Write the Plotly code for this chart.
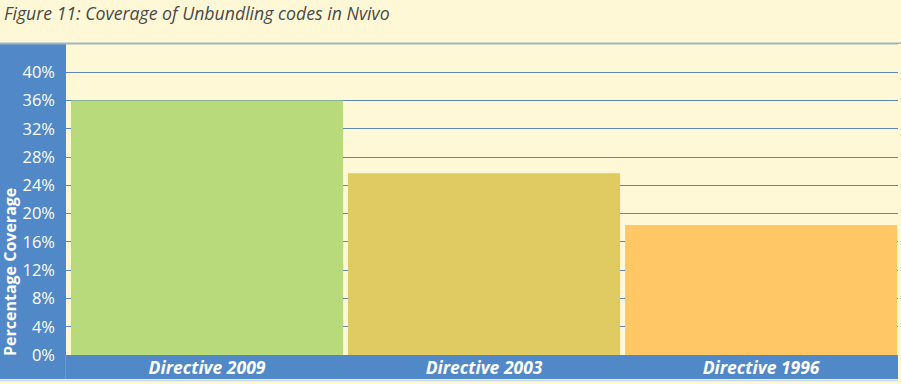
import plotly.graph_objects as go

categories = ["Directive 2009", "Directive 2003", "Directive 1996"]
coverage = [36.0, 25.7, 18.4]
bar_colors = ["#B8DA7A", "#DFCB62", "#FFC766"]
tick_vals = [0, 4, 8, 12, 16, 20, 24, 28, 32, 36, 40]
tick_text = [f"{v}%" for v in tick_vals]

W, H = 901, 384
L, R, T, B = 66, 0, 44, 29
pw = W - L - R
ph = H - T - B

cream = "#FFF8D6"
blue = "#5088C8"

def px(x):
    return (x - L) / pw

def py(y):
    return (H - B - y) / ph

fig = go.Figure(go.Bar(
    x=categories, y=coverage, marker=dict(color=bar_colors, line=dict(width=0)),
    width=0.982,
))

shapes = [
    dict(type="rect", xref="paper", yref="paper", x0=px(0), x1=0, y0=py(379), y1=py(44),
         fillcolor=blue, line=dict(width=0), layer="below"),
    dict(type="rect", xref="paper", yref="paper", x0=px(0), x1=px(898), y0=py(379), y1=0,
         fillcolor=blue, line=dict(width=0), layer="below"),
    dict(type="rect", xref="paper", yref="paper", x0=px(898), x1=px(901), y0=0, y1=py(44),
         fillcolor=cream, line=dict(width=0), layer="above"),
    dict(type="line", xref="paper", yref="paper", x0=px(0), x1=px(901), y0=py(43.5), y1=py(43.5),
         line=dict(color="#9DB4C6", width=2), layer="below"),
    dict(type="line", xref="paper", yref="paper", x0=px(0), x1=px(898), y0=py(380.5), y1=py(380.5),
         line=dict(color="#C9D6E2", width=1.5), layer="below"),
    dict(type="line", xref="paper", yref="paper", x0=px(65.5), x1=px(65.5), y0=py(379), y1=0,
         line=dict(color="#6A98CF", width=1), layer="below"),
]

annotations = [
    dict(text="Figure 11: Coverage of Unbundling codes in Nvivo", xref="paper", yref="paper",
         x=px(2), y=py(13), xanchor="left", yanchor="middle", showarrow=False,
         font=dict(family="Open Sans", size=17.7, color="#4A4A4A", style="italic")),
    dict(text="<b>Percentage Coverage</b>", xref="paper", yref="paper",
         x=px(10), y=py(358), xanchor="center", yanchor="bottom", showarrow=False,
         textangle=-90, font=dict(family="Open Sans", size=16, color="white")),
]

fig.update_layout(
    width=W, height=H,
    margin=dict(l=L, r=R, t=T, b=B, pad=0),
    paper_bgcolor=cream, plot_bgcolor=cream,
    showlegend=False,
    shapes=shapes,
    annotations=annotations,
    xaxis=dict(
        range=[-0.509, 2.505],
        showgrid=False, zeroline=False, showline=False, ticks="",
        tickfont=dict(family="Open Sans", size=17.5, color="white", weight="bold", style="italic"),
        ticklabelstandoff=0,
    ),
    yaxis=dict(
        range=[0, 44], tickvals=tick_vals, ticktext=tick_text,
        showgrid=True, gridcolor="#5B87B5", gridwidth=1,
        zeroline=False, showline=False, ticks="",
        tickfont=dict(family="Open Sans", size=16.5, color="white"),
        ticklabelstandoff=10,
    ),
)

fig.write_html("out.html")
